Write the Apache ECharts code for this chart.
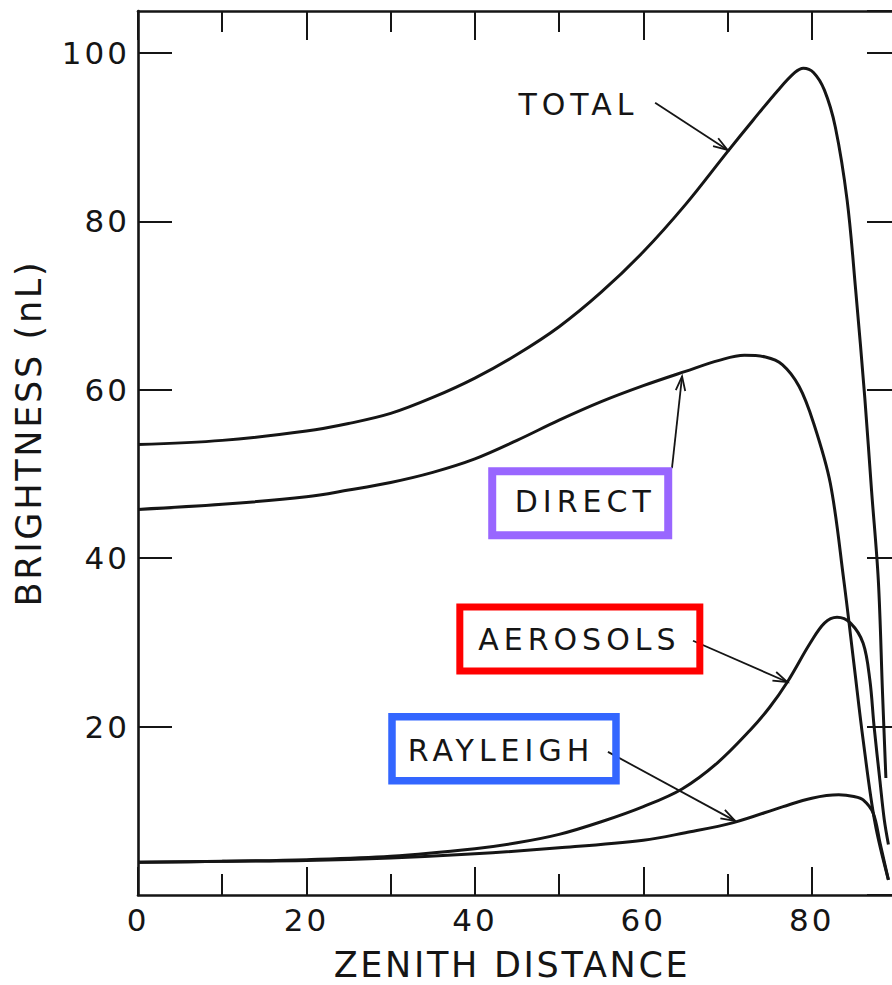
<!DOCTYPE html>
<html>
<head>
<meta charset="utf-8">
<title>Sky brightness vs zenith distance</title>
<script src="https://cdn.jsdelivr.net/npm/echarts@6/dist/echarts.min.js"></script>
<style>
  html, body { margin: 0; padding: 0; background: #ffffff; }
  #chart { width: 892px; height: 985px; }
  /* hand-lettered look: tracked-out capitals */
  #chart text { letter-spacing: 3px; }
  #chart text[style*="30px"] { letter-spacing: 5px; }
  #chart text[style*="35px"] { letter-spacing: 2.7px; }
</style>
</head>
<body>
<div id="chart"></div>
<script>
// ---- data: [zenith distance (deg), brightness (nL)] ----
const total = [
  [0, 53.5], [10, 54.0], [20, 55.1], [25, 56.0], [30, 57.2], [35, 59.1], [40, 61.4],
  [45, 64.2], [50, 67.5], [55, 71.6], [60, 76.4], [65, 82.0], [70, 88.3], [73, 92.0],
  [76, 95.6], [78, 97.7], [79, 98.2], [80.2, 97.7], [81.5, 95.6], [82.8, 91.2], [84.2, 82.5],
  [85.2, 72.0], [86.3, 59.0], [87.1, 48.0], [87.9, 37.4], [88.4, 24.0], [88.8, 13.9]
];
const direct = [
  [0, 45.8], [10, 46.4], [20, 47.3], [25, 48.1], [30, 49.0], [35, 50.2], [40, 51.8],
  [45, 54.0], [50, 56.4], [55, 58.6], [60, 60.5], [65, 62.2], [69, 63.5], [72, 64.1],
  [74.5, 63.9], [76.5, 63.0], [78.5, 60.4], [80.2, 56.1], [82.2, 48.9], [83.8, 37.4],
  [85, 27.5], [86.1, 18.4], [87.5, 8.6], [89.1, 1.8]
];
const aerosols = [
  [0, 3.9], [10, 4.0], [20, 4.2], [30, 4.6], [40, 5.5], [45, 6.2], [50, 7.2], [55, 8.7],
  [60, 10.5], [64.6, 12.6], [68.8, 15.7], [72.7, 19.6], [75, 22.3], [77.1, 25.3], [79.8, 29.9],
  [81.5, 32.3], [83, 33.0], [84.6, 32.3], [86.1, 29.9], [86.9, 25.5], [87.4, 20.0],
  [88.1, 13.5], [88.6, 9.0], [89.1, 6.0]
];
const rayleigh = [
  [0, 3.9], [10, 4.0], [20, 4.1], [30, 4.4], [40, 4.9], [50, 5.6], [60, 6.5], [65, 7.4],
  [70.7, 8.6], [76.6, 10.5], [80, 11.5], [83.2, 11.9], [85, 11.7], [86.1, 11.3],
  [87.3, 9.7], [88.1, 6.2], [89.1, 1.8]
];

// tick labels
const zenithLabels = [0, 20, 40, 60, 80];
const brightnessLabels = [20, 40, 60, 80, 100];

// curve annotations: label, label centre, arrow tail, arrow tip (data units)
const noteNames = ['TOTAL', 'DIRECT', 'AEROSOLS', 'RAYLEIGH'];
const noteAt = [[52.3, 93.9], [53.1, 46.7], [52.4, 30.3], [43.1, 17.2]];
const arrowFrom = [[61.4, 94.1], [63.4, 50.7], [65.9, 30.2], [55.8, 17.0]];
const arrowTo = [[70.0, 88.5], [64.6, 61.6], [77.1, 25.3], [70.9, 8.8]];

// ---- styling ----
const INK = '#151515';
const FONT = 'DejaVu Sans';
// frames drawn round the labels: [dx, dy, width, height, colour, stroke]
const noteFrames = [
  null,
  [-5, 1.5, 176, 64, '#9966ff', 8],
  [0.5, -1, 240, 64, '#ff0000', 7],
  [3, -1.5, 224, 64, '#3366ff', 7.5]
];

const chart = echarts.init(document.getElementById('chart'), null, { renderer: 'svg' });

function xAxisDef(position, interval, tickLen, withLine, withLabels) {
  return {
    type: 'value', position, min: 0, max: 90, interval,
    axisLine: { show: withLine, onZero: false, lineStyle: { color: INK, width: 2.6 } },
    axisTick: { show: true, inside: true, length: tickLen, lineStyle: { color: INK, width: 2 } },
    axisLabel: withLabels ? {
      show: true, color: INK, fontFamily: FONT, fontSize: 31, margin: 9,
      showMaxLabel: false,
      formatter: v => (zenithLabels.includes(v) ? String(v) : '')
    } : { show: false },
    splitLine: { show: false }
  };
}

function yAxisDef(position, tickLen, withLabels) {
  return {
    type: 'value', position, min: 0, max: 105, interval: 20,
    axisLine: { show: true, onZero: false, lineStyle: { color: INK, width: 2.6 } },
    axisTick: { show: true, inside: true, length: tickLen, lineStyle: { color: INK, width: 2 } },
    axisLabel: withLabels ? {
      show: true, color: INK, fontFamily: FONT, fontSize: 31, margin: 8,
      showMinLabel: false, showMaxLabel: false,
      formatter: v => (brightnessLabels.includes(v) ? String(v) : '')
    } : { show: false },
    splitLine: { show: false }
  };
}

function curve(name, data) {
  return {
    name, type: 'line', data, xAxisIndex: 0, yAxisIndex: 0,
    showSymbol: false, smooth: 0.35, silent: true,
    lineStyle: { color: INK, width: 3 }
  };
}

chart.setOption({
  animation: false,
  backgroundColor: '#ffffff',
  grid: { left: 138, top: 11, width: 758, height: 884, outerBoundsMode: 'none' },
  xAxis: [
    xAxisDef('bottom', 20, 28, true, true),
    xAxisDef('bottom', 10, 21, false, false),
    xAxisDef('top', 20, 29, true, false),
    xAxisDef('top', 10, 21, false, false)
  ],
  yAxis: [yAxisDef('left', 34, true), yAxisDef('right', 29, false)],
  series: [
    curve('TOTAL', total),
    curve('DIRECT', direct),
    curve('AEROSOLS', aerosols),
    curve('RAYLEIGH', rayleigh)
  ]
});

// ---- titles and annotations, placed through the grid's own coordinate system ----
const toPx = p => chart.convertToPixel({ gridIndex: 0 }, p);
const graphics = [];
const titleFont = '35px "' + FONT + '"';

graphics.push({
  type: 'text', silent: true, z: 13,
  x: 512, y: 965,
  style: { text: 'ZENITH DISTANCE', fill: INK, font: titleFont, align: 'center', verticalAlign: 'middle' }
});
graphics.push({
  type: 'text', silent: true, z: 13,
  x: 29, y: 433, rotation: Math.PI / 2,
  style: { text: 'BRIGHTNESS (nL)', fill: INK, font: titleFont, align: 'center', verticalAlign: 'middle' }
});

noteNames.forEach((label, i) => {
  const c = toPx(noteAt[i]);
  const a = toPx(arrowFrom[i]);
  const b = toPx(arrowTo[i]);
  const ang = Math.atan2(b[1] - a[1], b[0] - a[0]);
  const L = 15, spread = 0.32;
  const h1 = [b[0] - L * Math.cos(ang - spread), b[1] - L * Math.sin(ang - spread)];
  const h2 = [b[0] - L * Math.cos(ang + spread), b[1] - L * Math.sin(ang + spread)];
  graphics.push({
    type: 'line', silent: true, z: 10,
    shape: { x1: a[0], y1: a[1], x2: b[0], y2: b[1] },
    style: { stroke: INK, lineWidth: 1.8 }
  });
  graphics.push({
    type: 'polyline', silent: true, z: 10,
    shape: { points: [h1, b, h2] },
    style: { stroke: INK, fill: null, lineWidth: 1.8 }
  });
  const f = noteFrames[i];
  if (f) {
    graphics.push({
      type: 'rect', silent: true, z: 12,
      shape: { x: c[0] + f[0] - f[2] / 2, y: c[1] + f[1] - f[3] / 2, width: f[2], height: f[3] },
      style: { stroke: f[4], fill: null, lineWidth: f[5] }
    });
  }
  graphics.push({
    type: 'text', silent: true, z: 13,
    x: c[0], y: c[1],
    style: {
      text: label, fill: INK, font: '30px "' + FONT + '"',
      align: 'center', verticalAlign: 'middle'
    }
  });
});
chart.setOption({ graphic: graphics });
</script>
</body>
</html>
